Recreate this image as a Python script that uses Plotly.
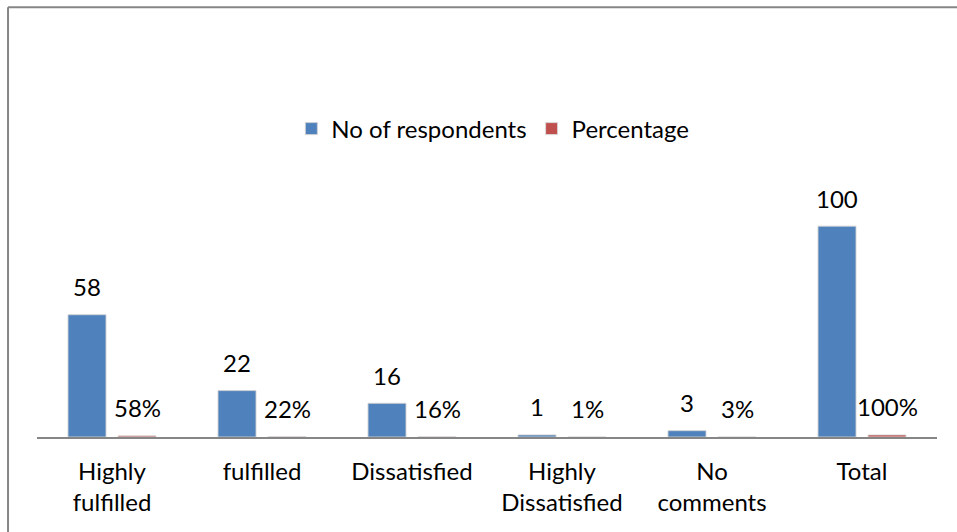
import plotly.graph_objects as go

categories = ["Highly<br>fulfilled", "fulfilled", "Dissatisfied",
              "Highly<br>Dissatisfied", "No<br>comments", "Total"]
respondents = [58, 22, 16, 1, 3, 100]
percentage = [0.58, 0.22, 0.16, 0.01, 0.03, 1.00]

BLUE = "#4F81BD"
RED = "#C0504D"
FONT = "Lato"
SIZE = 24

fig = go.Figure()
fig.add_trace(go.Bar(
    x=categories, y=respondents, name="No of respondents",
    marker=dict(color=BLUE, line=dict(color="rgba(210,210,210,0.9)", width=1)),
))
fig.add_trace(go.Bar(
    x=categories, y=percentage, name="Percentage",
    marker=dict(color=RED, line=dict(color="rgba(220,220,220,0.9)", width=1)),
))

# value labels above each bar
annotations = []
for c, v in zip(categories, respondents):
    annotations.append(dict(x=c, y=v, xref="x", yref="y", text=str(v),
                            showarrow=False, xshift=-25, yshift=28,
                            yanchor="middle", font=dict(size=SIZE, color="#000")))
for c, v in zip(categories, percentage):
    annotations.append(dict(x=c, y=v, xref="x", yref="y",
                            text=f"{round(v * 100)}%",
                            showarrow=False, xshift=25, yshift=28,
                            yanchor="middle", font=dict(size=SIZE, color="#000")))

# chart frame (top and left edges)
shapes = [
    dict(type="line", xref="paper", yref="paper", x0=-0.0322, x1=1.1,
         y0=1.6985, y1=1.6985, line=dict(color="#868686", width=2)),
    dict(type="line", xref="paper", yref="paper", x0=-0.0322, x1=-0.0322,
         y0=1.6985, y1=-0.5, line=dict(color="#868686", width=2)),
]

fig.update_layout(
    width=957, height=532,
    margin=dict(l=37, r=20, t=184, b=95),
    paper_bgcolor="white", plot_bgcolor="white",
    barmode="group", bargap=1 / 3, bargroupgap=0.24,
    font=dict(family=FONT, size=SIZE, color="#000"),
    showlegend=True,
    legend=dict(orientation="h", yref="container", xref="container",
                x=0.515, y=0.7575, xanchor="center", yanchor="middle",
                font=dict(size=SIZE), itemwidth=30, traceorder="normal"),
    xaxis=dict(showline=True, linecolor="#868686", linewidth=2,
               ticks="", showgrid=False, ticklabelstandoff=12,
               tickfont=dict(size=SIZE)),
    yaxis=dict(range=[0, 120], visible=False, showgrid=False),
    annotations=annotations, shapes=shapes,
)

fig.write_html("out.html")
